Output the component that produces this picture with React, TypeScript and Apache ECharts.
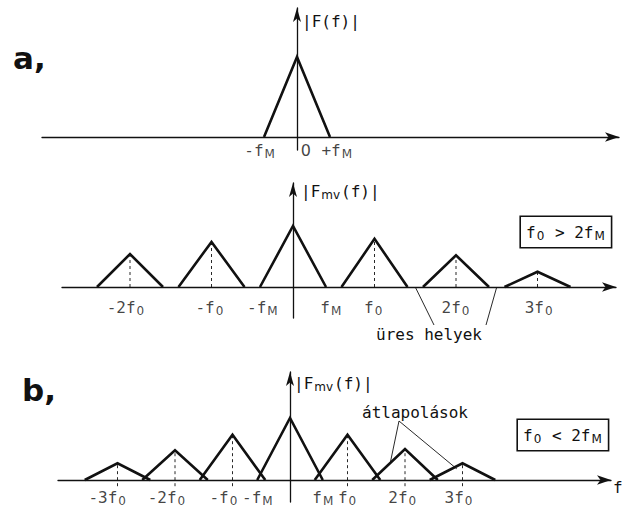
import React, { useEffect, useRef } from "react";
import * as echarts from "echarts";

// ---- data ----
// a) spectrum of the band-limited signal, x in units of f_M
const aCenters = [0];
const aPeaks = [1];
const aHalfWidth = 1;
const aTickPos = [-1.12, 0.27, 1.22];
const aTickText = ["{n|-f}{s|M}", "{z|0}", "{n|+f}{s|M}"];

// sampled spectrum, f0 > 2fM, x in units of f0
const mCenters = [-2, -1, 0, 1, 2, 3];
const mPeaks = [0.54, 0.74, 1, 0.79, 0.52, 0.25];
const mHalfWidth = 0.405;
const mTickPos = [-2.05, -1.02, -0.37, 0.47, 0.99, 2.0, 3.02];
const mTickText = [
  "{n|-2f}{s|0}",
  "{n|-f}{s|0}",
  "{n|-f}{s|M}",
  "{n|f}{s|M}",
  "{n|f}{s|0}",
  "{n|2f}{s|0}",
  "{n|3f}{s|0}",
];
const mGaps = [1.5, 2.5];

// b) sampled spectrum, f0 < 2fM, x in units of f0
const bCenters = [-3, -2, -1, 0, 1, 2, 3];
const bPeaks = [0.27, 0.48, 0.73, 1, 0.73, 0.5, 0.27];
const bHalfWidth = 0.57;
const bTickPos = [-3.17, -2.14, -1.15, -0.56, 0.58, 1.0, 1.96, 2.94];
const bTickText = [
  "{n|-3f}{s|0}",
  "{n|-2f}{s|0}",
  "{n|-f}{s|0}",
  "{n|-f}{s|M}",
  "{n|f}{s|M}",
  "{n|f}{s|0}",
  "{n|2f}{s|0}",
  "{n|3f}{s|0}",
];
// points on the overlapping slopes that the "átlapolások" note points to
const bOverlapPts: [number, number][] = [
  [1.74, 0.26],
  [2.9, 0.18],
];

// ---- layout (pixels) ----
type Panel = {
  left: number;
  right: number;
  top: number;
  bottom: number;
  zeroX: number;
  baseY: number;
  unitX: number;
  unitY: number;
};
const panels: Panel[] = [
  { left: 42, right: 619, top: 8, bottom: 150, zeroX: 297, baseY: 137, unitX: 33, unitY: 80 },
  { left: 62, right: 616, top: 183, bottom: 318, zeroX: 293, baseY: 287, unitX: 81.5, unitY: 61 },
  { left: 58, right: 611, top: 372, bottom: 502, zeroX: 290, baseY: 480, unitX: 57.5, unitY: 62 },
];

const FONT = '"DejaVu Sans Mono", monospace';
const SUBFONT = '"DejaVu Sans", sans-serif';
const INK = "#111";

const rich = {
  n: { fontFamily: FONT, fontSize: 16, color: INK, lineHeight: 20, verticalAlign: "middle" },
  z: { fontFamily: SUBFONT, fontSize: 16, color: INK, lineHeight: 20, verticalAlign: "middle" },
  s: { fontFamily: SUBFONT, fontSize: 12, color: INK, lineHeight: 10, verticalAlign: "bottom", padding: [0, 1, 0, 1] },
};

function triangles(centers: number[], peaks: number[], w: number, gi: number) {
  return centers.map((c, i) => ({
    type: "line",
    xAxisIndex: gi,
    yAxisIndex: gi,
    data: [
      [c - w, 0],
      [c, peaks[i]],
      [c + w, 0],
    ],
    symbol: "none",
    lineStyle: { color: INK, width: 2.6, join: "miter" },
    z: 3,
  }));
}

function guides(centers: number[], peaks: number[], gi: number, below: number) {
  return centers
    .filter((c) => c !== 0)
    .map((c) => {
      const i = centers.indexOf(c);
      return {
        type: "line",
        xAxisIndex: gi,
        yAxisIndex: gi,
        data: [
          [c, -below],
          [c, peaks[i]],
        ],
        symbol: "none",
        lineStyle: { color: INK, width: 0.9, type: [3, 3] },
        z: 2,
      };
    });
}

function tickLabels(pos: number[], text: string[], gi: number, dist: number) {
  return {
    type: "scatter",
    xAxisIndex: gi,
    yAxisIndex: gi,
    symbolSize: 0,
    clip: false,
    data: pos.map((p, i) => ({ value: [p, 0], name: text[i] })),
    label: {
      show: true,
      position: "bottom",
      distance: dist,
      formatter: (p: any) => p.name,
      rich,
    },
    z: 4,
  };
}

function leader(from: [number, number], to: [number, number], gi: number) {
  return {
    type: "line",
    xAxisIndex: gi,
    yAxisIndex: gi,
    data: [from, to],
    symbol: "none",
    clip: false,
    lineStyle: { color: INK, width: 0.9 },
    z: 2,
  };
}

export default function App() {
  const ref = useRef<HTMLDivElement>(null);

  useEffect(() => {
    if (!ref.current) return;
    const chart = echarts.init(ref.current, null, { renderer: "svg" });

    const grid = panels.map((p) => ({
      left: p.left,
      top: p.top,
      width: p.right - p.left,
      height: p.bottom - p.top,
      containLabel: false,
    }));
    const axisLine = (arrow: number[]) => ({
      show: true,
      onZero: true,
      symbol: ["none", "arrow"],
      symbolSize: arrow,
      lineStyle: { color: INK, width: 1.3 },
    });
    const xAxis = panels.map((p, i) => ({
      type: "value",
      gridIndex: i,
      min: (p.left - p.zeroX) / p.unitX,
      max: (p.right - p.zeroX) / p.unitX,
      axisLine: axisLine([7, 14]),
      axisTick: { show: false },
      axisLabel: { show: false },
      splitLine: { show: false },
    }));
    const yAxis = panels.map((p, i) => ({
      type: "value",
      gridIndex: i,
      min: (p.baseY - p.bottom) / p.unitY,
      max: (p.baseY - p.top) / p.unitY,
      axisLine: axisLine([6, 14]),
      axisTick: { show: false },
      axisLabel: { show: false },
      splitLine: { show: false },
    }));

    const mp = panels[1];
    const bp = panels[2];
    // leader-line ends near the "üres helyek" note, panel-1 data units
    const uresAnchor: [number, number][] = [
      [(434 - mp.zeroX) / mp.unitX, (mp.baseY - 325) / mp.unitY],
      [(486 - mp.zeroX) / mp.unitX, (mp.baseY - 325) / mp.unitY],
    ];
    const atlapAnchor: [number, number] = [(399 - bp.zeroX) / bp.unitX, (bp.baseY - 421) / bp.unitY];

    const series: any[] = [
      ...triangles(aCenters, aPeaks, aHalfWidth, 0),
      tickLabels(aTickPos, aTickText, 0, 3),
      ...triangles(mCenters, mPeaks, mHalfWidth, 1),
      ...guides(mCenters, mPeaks, 1, 0),
      tickLabels(mTickPos, mTickText, 1, 10),
      leader([mGaps[0], 0], uresAnchor[0], 1),
      leader([mGaps[1], 0], uresAnchor[1], 1),
      ...triangles(bCenters, bPeaks, bHalfWidth, 2),
      ...guides(bCenters, bPeaks, 2, 0.1),
      tickLabels(bTickPos, bTickText, 2, 7),
      leader(atlapAnchor, bOverlapPts[0], 2),
      leader(atlapAnchor, bOverlapPts[1], 2),
    ];

    const txt = (x: number, y: number, text: string, extra: any = {}) => ({
      type: "text",
      x,
      y,
      style: {
        text,
        rich,
        fill: INK,
        fontFamily: FONT,
        fontSize: 16,
        align: "left",
        verticalAlign: "middle",
        ...extra,
      },
      z: 10,
    });
    const boxed = (x: number, y: number, text: string) =>
      txt(x, y, text, {
        borderColor: INK,
        borderWidth: 1.6,
        padding: [5, 5, 5, 5],
        backgroundColor: "#fff",
      });
    const bold = { fontSize: 31, fontWeight: "bold", fontFamily: '"DejaVu Sans", sans-serif' };

    const graphic = [
      txt(13, 58, "a,", bold),
      txt(22, 390, "b,", bold),
      txt(302, 21, "{n||F(f)|}"),
      txt(301, 191, "{n||F}{s|mv}{n|(f)|}"),
      txt(294, 383, "{n||F}{s|mv}{n|(f)|}"),
      boxed(521, 232, "{n|f}{s|0}{n| > 2f}{s|M}"),
      boxed(518, 435, "{n|f}{s|0}{n| < 2f}{s|M}"),
      txt(429, 334, "üres helyek", { align: "center" }),
      txt(415, 412, "átlapolások", { align: "center" }),
      txt(613, 487, "f"),
    ];

    chart.setOption({
      animation: false,
      backgroundColor: "#fff",
      grid,
      xAxis,
      yAxis,
      series,
      graphic,
    });
    return () => chart.dispose();
  }, []);

  return (
    <div
      ref={ref}
      style={{ position: "fixed", left: 0, top: 0, width: 622, height: 512, background: "#fff" }}
    />
  );
}
